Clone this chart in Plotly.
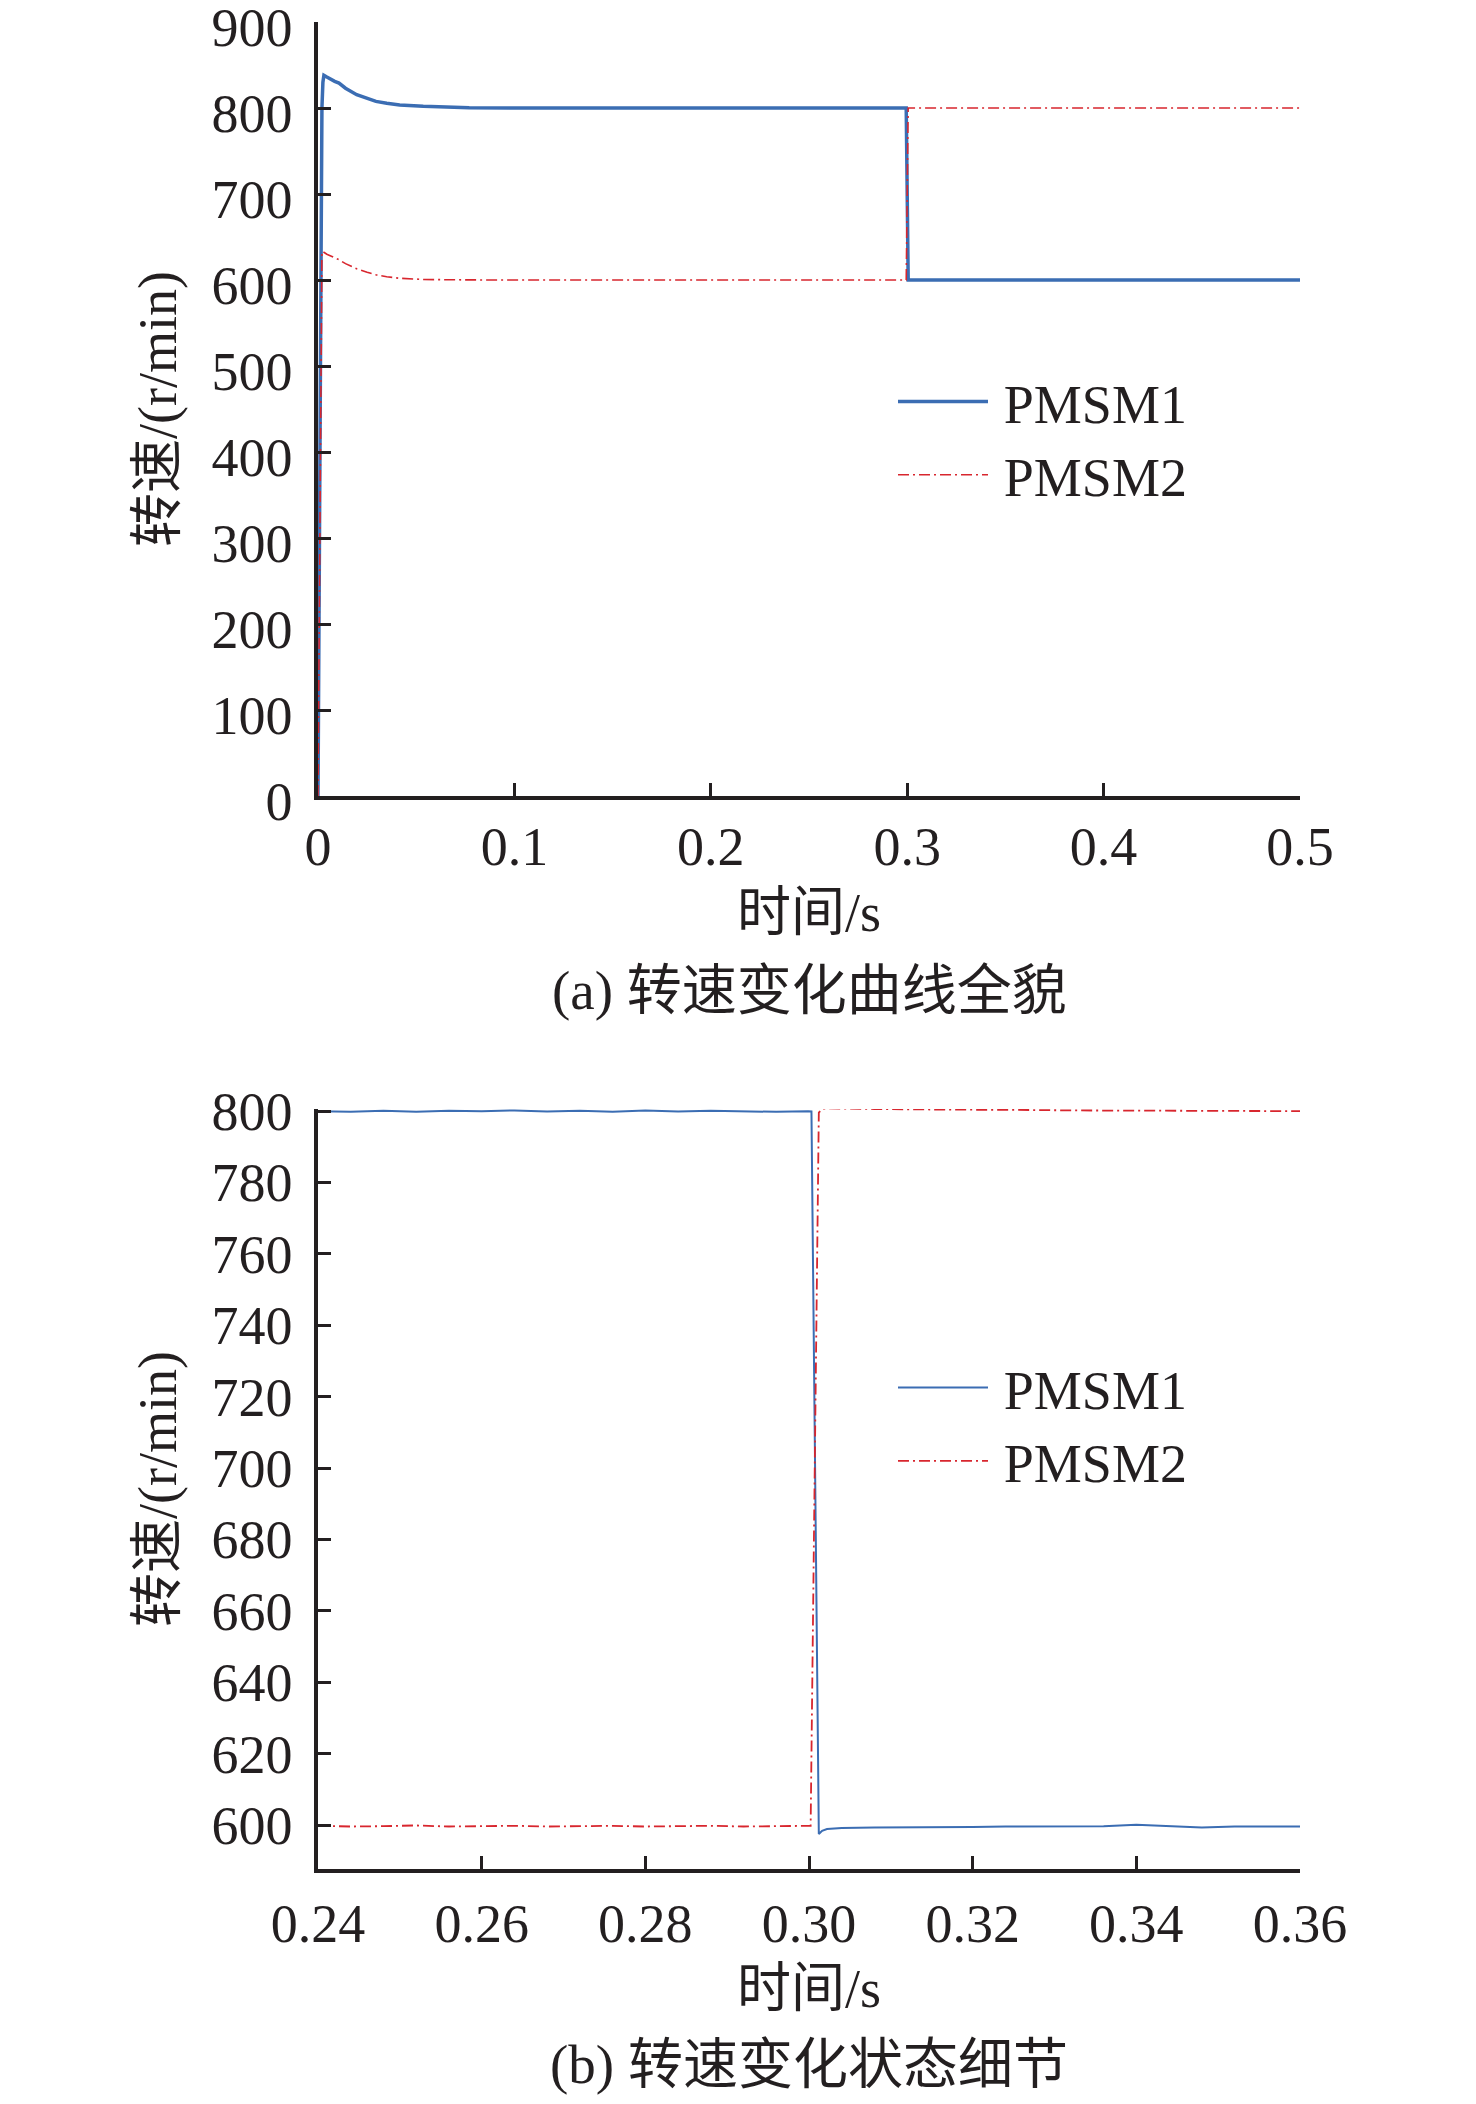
import plotly.graph_objects as go

# ---- data ----
# (a) whole run, 0 - 0.5 s
t_full = [0, 0.0008, 0.0015, 0.002, 0.0025, 0.003, 0.0045, 0.0065, 0.0085, 0.0107,
          0.014, 0.0197, 0.025, 0.0295, 0.035, 0.0416, 0.0536, 0.065, 0.077, 0.1,
          0.15, 0.2, 0.25, 0.2995, 0.3005, 0.35, 0.4, 0.45, 0.5]
pmsm1_full = [0, 380, 720, 800, 830, 838, 836, 833, 831, 829,
              823, 815.5, 811, 807.7, 805.5, 803.5, 802, 801, 800.3, 800,
              800, 800, 800, 800, 600, 600, 600, 600, 600]
pmsm2_full = [0, 300, 560, 633, 633, 632, 630, 628, 626, 623.6,
              619, 613, 609, 606, 603.8, 602, 600.6, 600.2, 600.1, 600,
              600, 600, 600, 600, 800, 800, 800, 800, 800]

# (b) detail around the switch, 0.24 - 0.36 s
t_zoom_1 = [0.240, 0.244, 0.248, 0.252, 0.256, 0.260, 0.264, 0.268, 0.272, 0.276,
            0.280, 0.284, 0.288, 0.292, 0.296, 0.2999, 0.3003, 0.3012, 0.3016, 0.3022,
            0.303, 0.304, 0.308, 0.312, 0.316, 0.320, 0.324, 0.328, 0.332, 0.336,
            0.340, 0.344, 0.348, 0.352, 0.356, 0.360]
pmsm1_zoom = [800.0, 799.8, 800.1, 799.8, 800.1, 800.0, 800.2, 799.9, 800.1, 799.8,
              800.2, 799.9, 800.1, 800.0, 799.8, 800.0, 799.9, 597.5, 598.4, 598.9,
              599.1, 599.2, 599.3, 599.3, 599.4, 599.5, 599.6, 599.6, 599.7, 599.7,
              600.1, 599.7, 599.3, 599.6, 599.7, 599.6]

t_zoom_2 = [0.240, 0.244, 0.248, 0.252, 0.256, 0.260, 0.264, 0.268, 0.272, 0.276,
            0.280, 0.284, 0.288, 0.292, 0.296, 0.3002, 0.3012, 0.3016, 0.302, 0.3025,
            0.304, 0.308, 0.312, 0.316, 0.320, 0.324, 0.328, 0.332, 0.336, 0.340,
            0.344, 0.348, 0.352, 0.356, 0.360]
pmsm2_zoom = [599.8, 599.6, 599.7, 599.9, 599.6, 599.7, 599.8, 599.6, 599.7, 599.8,
              599.6, 599.7, 599.8, 599.6, 599.7, 599.8, 799.6, 800.6, 800.8, 800.8,
              800.7, 800.6, 800.5, 800.5, 800.4, 800.3, 800.3, 800.2, 800.2, 800.1,
              800.1, 800.1, 800.0, 800.0, 800.0]

series_names = ["PMSM1", "PMSM2"]
x_title = "时间/s"
y_title = "转速/(r/min)"
captions = ["(a) 转速变化曲线全貌", "(b) 转速变化状态细节"]

# ---- style ----
PAGE_W, PAGE_H = 1476, 2104
BODY = 8                      # default body margin of the html page
W, H = PAGE_W - 2 * BODY, PAGE_H - 2 * BODY
BLUE = "#3b6db3"
RED = "#d8262e"
INK = "#231f20"
FONT = "Liberation Serif, 'Noto Sans CJK SC', serif"
FS = 54
DASHDOT = "11px,4px,2px,4px"


# page pixel -> paper fraction
def px_x(p):
    return (p - BODY) / W


def px_y(p):
    return 1 - (p - BODY) / H


fig = go.Figure()

# thin space in front of the names opens the gap between sample line and text
fig.add_trace(go.Scatter(x=t_full, y=pmsm1_full, name="\u2009" + series_names[0], mode="lines",
                         line=dict(color=BLUE, width=3.5), xaxis="x", yaxis="y",
                         legend="legend"))
fig.add_trace(go.Scatter(x=t_full, y=pmsm2_full, name="\u2009" + series_names[1], mode="lines",
                         line=dict(color=RED, width=1.6, dash=DASHDOT), xaxis="x", yaxis="y",
                         legend="legend"))
fig.add_trace(go.Scatter(x=t_zoom_1, y=pmsm1_zoom, name="\u2009" + series_names[0], mode="lines",
                         line=dict(color=BLUE, width=2), xaxis="x2", yaxis="y2",
                         legend="legend2"))
fig.add_trace(go.Scatter(x=t_zoom_2, y=pmsm2_zoom, name="\u2009" + series_names[1], mode="lines",
                         line=dict(color=RED, width=1.8, dash=DASHDOT), xaxis="x2", yaxis="y2",
                         legend="legend2"))

axis_common = dict(showline=True, linecolor=INK, linewidth=3.5, ticks="inside",
                   ticklen=13, tickwidth=3, tickcolor=INK, showgrid=False, zeroline=False,
                   automargin=False, ticklabeloverflow="allow",
                   tickfont=dict(family=FONT, size=FS, color=INK),
                   title_font=dict(family=FONT, size=FS, color=INK))

x_dom = [px_x(318), px_x(1300)]

fig.update_layout(
    width=W, height=H,
    paper_bgcolor="white", plot_bgcolor="white",
    margin=dict(l=0, r=0, t=0, b=0),
    font=dict(family=FONT, size=FS, color=INK),
    xaxis=dict(axis_common, domain=x_dom, range=[0, 0.5], dtick=0.1, tick0=0,
               anchor="y", ticklabelstandoff=0,
               title=dict(text=x_title, standoff=19)),
    yaxis=dict(axis_common, domain=[px_y(796), px_y(22)], range=[0, 900], dtick=100,
               anchor="x", ticklabelstandoff=11, ticklabelshift=5,
               title=dict(text=y_title, standoff=19)),
    xaxis2=dict(axis_common, domain=x_dom, range=[0.24, 0.36], dtick=0.02, tick0=0.24,
                tickformat=".2f", anchor="y2", ticklabelstandoff=4,
                title=dict(text=x_title, standoff=18)),
    yaxis2=dict(axis_common, domain=[px_y(1869), px_y(1109)], range=[587.7, 800.6],
                dtick=20, tick0=600, anchor="x2", ticklabelstandoff=11,
                title=dict(text=y_title, standoff=19)),
    legend=dict(x=px_x(893), y=px_y(360), xanchor="left", yanchor="top",
                bgcolor="rgba(0,0,0,0)", itemwidth=90, tracegroupgap=0,
                font=dict(family=FONT, size=FS, color=INK)),
    legend2=dict(x=px_x(893), y=px_y(1346), xanchor="left", yanchor="top",
                 bgcolor="rgba(0,0,0,0)", itemwidth=90, tracegroupgap=0,
                 font=dict(family=FONT, size=FS, color=INK)),
    showlegend=True,
)

fig.add_annotation(text=captions[0], xref="paper", yref="paper", x=px_x(809), y=px_y(990),
                   yanchor="middle", showarrow=False,
                   font=dict(family=FONT, size=FS + 1, color=INK))
fig.add_annotation(text=captions[1], xref="paper", yref="paper", x=px_x(809), y=px_y(2064),
                   yanchor="middle", showarrow=False,
                   font=dict(family=FONT, size=FS + 1, color=INK))

fig.write_html("out.html")
